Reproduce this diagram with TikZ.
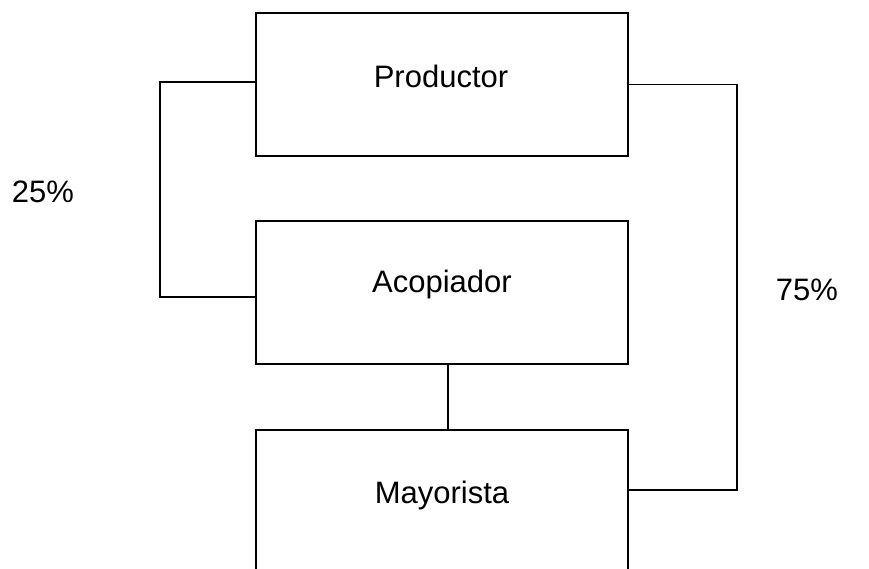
\documentclass[tikz,border=0pt]{standalone}
\usepackage{fontspec}
\setmainfont{Liberation Sans}
\begin{document}
\begin{tikzpicture}[x=1pt,y=-1pt,
  boxnode/.style={draw, line width=1.8pt, minimum width=372pt, minimum height=143pt, inner sep=0pt},
  txt/.style={font=\fontsize{31}{35}\selectfont, inner sep=0pt},
  conn/.style={line width=1.8pt}]
  \useasboundingbox (0,0) rectangle (869,568);
  % boxes
  \node[boxnode] (prod) at (442,84.5) {};
  \node[boxnode] (acop) at (442,292.5) {};
  \node[boxnode] (mayo) at (442,501.5) {};
  % box labels
  \node[txt] (tprod) at (441,76) {Productor};
  \node[txt] (tacop) at (442,284) {Acopiador};
  \node[txt] (tmayo) at (442,495) {Mayorista};
  % share labels
  \node[txt] (p25) at (43,192) {25\%};
  \node[txt] (p75) at (807,290) {75\%};
  % connector bends
  \coordinate (L) at (160,0);
  \coordinate (R) at (737,0);
  \coordinate (M) at (448,0);
  \coordinate (pw) at ([yshift=2.5pt]prod.west);
  \coordinate (aw) at ([yshift=-4.5pt]acop.west);
  \coordinate (pe) at (prod.east);
  \coordinate (me) at ([yshift=11.5pt]mayo.east);
  \draw[conn] (pw) -- (pw -| L) -- (aw -| L) -- (aw);
  \draw[conn] (pe) -- (pe -| R) -- (me -| R) -- (me);
  \draw[conn] (acop.south -| M) -- (mayo.north -| M);
\end{tikzpicture}
\end{document}
